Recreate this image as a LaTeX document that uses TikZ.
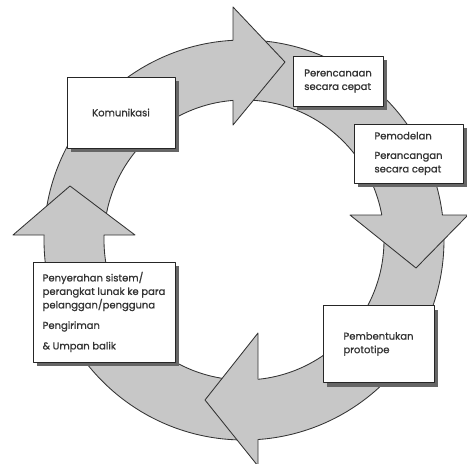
\documentclass[tikz,border=0pt]{standalone}
\usepackage{fontspec}
\newfontfamily\boxfont{Poppins}[FakeBold=0.9]
\usetikzlibrary{shadows}
\begin{document}
\begin{tikzpicture}[x=1pt,y=-1pt, line join=round, line cap=round,
	ring/.style={fill=black!22},
	edge/.style={line width=0.85pt, black!80},
	box/.style={draw=black!85, line width=0.85pt, fill=white, text=black!80,
		drop shadow={shadow xshift=4pt,shadow yshift=-4pt,fill=black!60,opacity=1},
		font=\boxfont\fontsize{10}{13.5}\selectfont},
	lbox/.style={box, align=left}]
	\useasboundingbox (0,0) rectangle (467,464);
	%Vong tron
	\fill[ring,even odd rule] (244,240) circle (200) (244,240) circle (140);
	\draw[edge] (244,240) circle (200) (244,240) circle (140);
	%Mui ten
	\fill[ring] (233,7)--(285,62)--(233,125)--cycle;
	\draw[edge] (233,40.3)--(233,7)--(285,62)--(233,125)--(233,100.4);
	\fill[ring] (350,215)--(416,268)--(468,215)--cycle;
	\draw[edge] (381.7,215)--(350,215)--(416,268)--(468,215)--(442.4,215);
	\fill[ring] (258,333)--(205,400)--(258,466)--cycle;
	\draw[edge] (258,379.3)--(258,333)--(205,400)--(258,466)--(258,439.5);
	\fill[ring] (13,235)--(70,186)--(135,235)--cycle;
	\draw[edge] (44.1,235)--(13,235)--(70,186)--(135,235)--(104.1,235);
	%Kotak
	\node[box, minimum width=108, minimum height=71] (kom) at (121,112.5) {Komunikasi};
	\node[lbox, minimum width=90, minimum height=50] (rencana) at (338,81) {Perencanaan\\secara cepat};
	\node[lbox, minimum width=109, minimum height=59] (model) at (408.5,153.5) {Pemodelan\\[6pt]Perancangan\\secara cepat};
	\node[lbox, minimum width=111, minimum height=77] (bentuk) at (378.5,344) {Pembentukan\\prototipe};
	\node[lbox, minimum width=142, minimum height=100] (serah) at (104,312) {Penyerahan sistem/\\perangkat lunak ke para\\pelanggan/pengguna\\[7pt]Pengiriman\\[7pt]\&~Umpan balik};
\end{tikzpicture}
\end{document}
